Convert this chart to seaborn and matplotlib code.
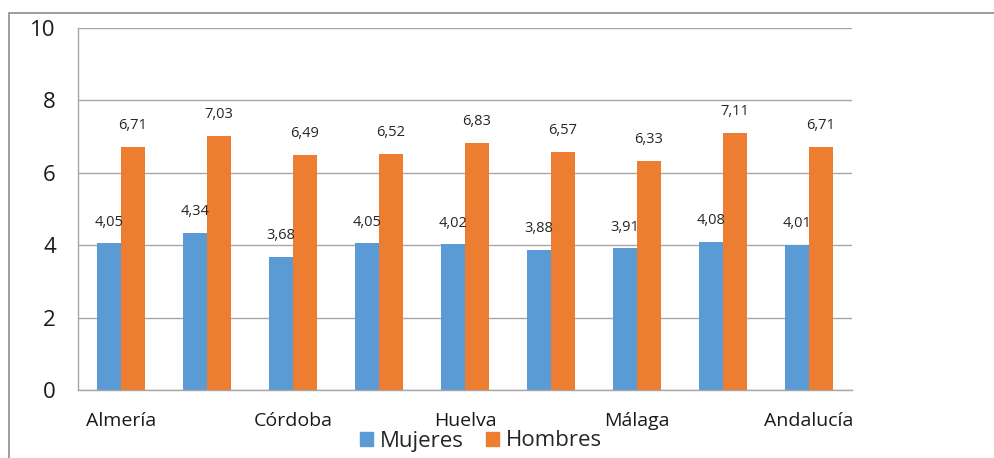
import matplotlib
matplotlib.use("Agg")
import matplotlib.pyplot as plt
import seaborn as sns
import pandas as pd
from matplotlib.patches import Rectangle

provincias = ["Almería", "Cádiz", "Córdoba", "Granada", "Huelva",
              "Jaén", "Málaga", "Sevilla", "Andalucía"]
mujeres = [4.05, 4.34, 3.68, 4.05, 4.02, 3.88, 3.91, 4.08, 4.01]
hombres = [6.71, 7.03, 6.49, 6.52, 6.83, 6.57, 6.33, 7.11, 6.71]
series = ["Mujeres", "Hombres"]
colores = ["#5B9BD5", "#ED7D31"]

df = pd.DataFrame({
    "provincia": provincias * 2,
    "valor": mujeres + hombres,
    "sexo": [series[0]] * len(provincias) + [series[1]] * len(provincias),
})

sns.set_theme(style="white")
plt.rcParams["font.family"] = ["Open Sans", "DejaVu Sans"]

fig = plt.figure(figsize=(9.95, 4.58), dpi=100)
ax = fig.add_axes([78 / 995, 1 - 390 / 458, (852 - 78) / 995, (390 - 28) / 458])

sns.barplot(data=df, x="provincia", y="valor", hue="sexo",
            palette=colores, width=0.56, gap=0, saturation=1,
            linewidth=0, ax=ax, legend=False)

# value labels above every bar
for cont in ax.containers:
    for bar in cont:
        h = bar.get_height()
        ax.annotate(f"{h:.2f}".replace(".", ","),
                    (bar.get_x() + bar.get_width() / 2, h),
                    xytext=(0, 10), textcoords="offset points",
                    ha="center", va="bottom", fontsize=10.5, color="#262626")

ax.set_ylim(0, 10)
ax.set_yticks(range(0, 11, 2))
ax.yaxis.grid(True, color="#A6A6A6", linewidth=1)
ax.set_axisbelow(True)
ax.tick_params(axis="y", length=0, pad=16, labelsize=16, labelcolor="#1a1a1a")
ax.tick_params(axis="x", length=0, pad=16, labelsize=14, labelcolor="#1a1a1a")
ax.set_xticks(range(len(provincias)))
ax.set_xticklabels([p if i % 2 == 0 else "" for i, p in enumerate(provincias)])
ax.set_xlabel("")
ax.set_ylabel("")
for s in ["top", "right"]:
    ax.spines[s].set_visible(False)
ax.spines["left"].set_color("#A6A6A6")
ax.spines["bottom"].set_color("#A6A6A6")
ax.spines["left"].set_linewidth(1)
ax.spines["bottom"].set_linewidth(1)

handles = [Rectangle((0, 0), 1, 1, color=c) for c in colores]
fig.legend(handles, series, loc="center", bbox_to_anchor=(481 / 995, 1 - 441 / 458),
           ncol=2, frameon=False, fontsize=16, handlelength=0.6, handleheight=0.6,
           handletextpad=0.3, columnspacing=1.0, borderpad=0)

# outer chart frame
fig.add_artist(Rectangle((9 / 995, -0.1), 1.2, 1 - 13 / 458 + 0.1,
                         transform=fig.transFigure, fill=False,
                         edgecolor="#8c8c8c", linewidth=1.2))

fig.savefig("out.png", dpi=100)
